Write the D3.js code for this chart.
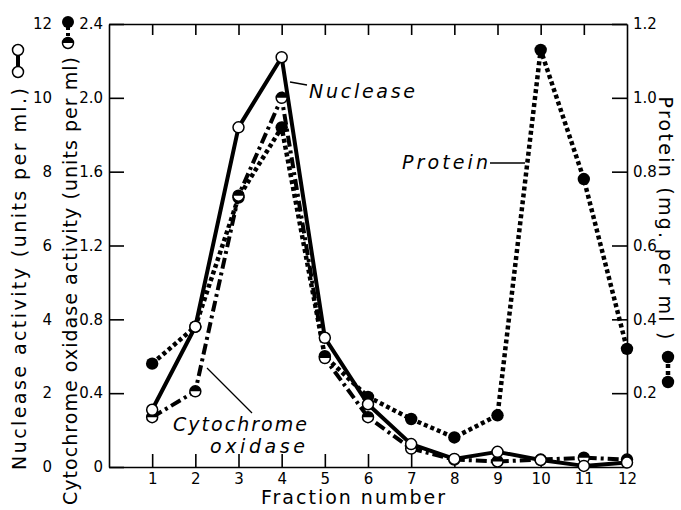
<!DOCTYPE html>
<html>
<head>
<meta charset="utf-8">
<script src="https://cdn.jsdelivr.net/npm/d3@7"></script>
<style>
  body { margin: 0; background: #fff; }
  svg { display: block; font-family: "DejaVu Sans", sans-serif; }
  .axis path, .axis line { stroke: #000; stroke-width: 1.6px; }
  .axis text { font-family: "DejaVu Sans", sans-serif; font-size: 15px; fill: #000; }
</style>
</head>
<body>
<div id="chart"></div>
<script>
// fraction numbers on the x axis
var fractions = [1, 2, 3, 4, 5, 6, 7, 8, 9, 10, 11, 12];
// nuclease activity, units per ml (left outer scale 0-12)
var nuclease = [1.55, 3.8, 9.2, 11.1, 3.5, 1.7, 0.62, 0.22, 0.41, 0.19, 0.03, 0.12];
// cytochrome oxidase activity, units per ml (left inner scale 0-2.4)
var cytochrome = [0.27, 0.41, 1.47, 2.0, 0.59, 0.27, 0.10, 0.04, 0.03, 0.04, 0.05, 0.04];
// protein, mg per ml (right scale 0-1.2)
var protein = [0.28, 0.38, 0.73, 0.92, 0.30, 0.19, 0.13, 0.08, 0.14, 1.13, 0.78, 0.32];

var nucleaseTicks = [0, 2, 4, 6, 8, 10, 12];
var cytochromeTicks = [0, 0.4, 0.8, 1.2, 1.6, 2.0, 2.4];
var proteinTicks = [0.2, 0.4, 0.6, 0.8, 1.0, 1.2];

var w = 681, h = 510;
var pLeft = 109, pRight = 627, pTop = 24, pBottom = 467;

var svg = d3.select("#chart").append("svg")
    .attr("width", w)
    .attr("height", h);

var x = d3.scaleLinear().domain([0, 12]).range([pLeft, pRight]);
var yN = d3.scaleLinear().domain([0, 12]).range([pBottom, pTop]);
var yC = d3.scaleLinear().domain([0, 2.4]).range([pBottom, pTop]);
var yP = d3.scaleLinear().domain([0, 1.2]).range([pBottom, pTop]);

var fmt = function(d) { return d === 0 ? "0" : d3.format(".1f")(d); };

// axes, ticks pointing inward
svg.append("g").attr("class", "axis")
    .attr("transform", "translate(" + pLeft + ",0)")
    .call(d3.axisLeft(yC).tickValues(cytochromeTicks).tickSizeInner(-15).tickSizeOuter(0).tickPadding(6).tickFormat(fmt));

svg.append("g").attr("class", "axis outer")
    .attr("transform", "translate(52,0)")
    .call(d3.axisLeft(yN).tickValues(nucleaseTicks).tickSize(0).tickPadding(0))
    .call(function(g) { g.select(".domain").remove(); });

svg.append("g").attr("class", "axis")
    .attr("transform", "translate(" + pRight + ",0)")
    .call(d3.axisRight(yP).tickValues(proteinTicks).tickSizeInner(-15).tickSizeOuter(0).tickPadding(6).tickFormat(fmt));

svg.append("g").attr("class", "axis")
    .attr("transform", "translate(0," + pBottom + ")")
    .call(d3.axisBottom(x).tickValues(fractions).tickSizeInner(-13).tickSizeOuter(0).tickPadding(6));

svg.append("g").attr("class", "axis")
    .attr("transform", "translate(0," + pTop + ")")
    .call(d3.axisTop(x).tickValues(fractions.slice(0, 11)).tickSizeInner(-11).tickSizeOuter(0).tickFormat(""));

// lines
var lineN = d3.line().x(function(d, i) { return x(fractions[i]); }).y(function(d) { return yN(d); });
var lineC = d3.line().x(function(d, i) { return x(fractions[i]); }).y(function(d) { return yC(d); });
var lineP = d3.line().x(function(d, i) { return x(fractions[i]); }).y(function(d) { return yP(d); });

svg.append("path")
    .attr("d", lineP(protein))
    .attr("fill", "none")
    .attr("stroke", "#000")
    .attr("stroke-width", 4.5)
    .attr("stroke-dasharray", "4,3");

svg.append("path")
    .attr("d", lineC(cytochrome))
    .attr("fill", "none")
    .attr("stroke", "#000")
    .attr("stroke-width", 4)
    .attr("stroke-dasharray", "11,4,3,4");

svg.append("path")
    .attr("d", lineN(nuclease))
    .attr("fill", "none")
    .attr("stroke", "#000")
    .attr("stroke-width", 4)
    .attr("stroke-linejoin", "round");

// markers
var r = 5.5;
var halfTop = "M" + (-r) + ",0A" + r + "," + r + " 0 0,1 " + r + ",0Z";

svg.selectAll("circle.prot")
    .data(protein)
    .enter().append("circle")
    .attr("class", "prot")
    .attr("cx", function(d, i) { return x(fractions[i]); })
    .attr("cy", function(d) { return yP(d); })
    .attr("r", 6.2)
    .attr("fill", "#000");

var cyt = svg.selectAll("g.cyt")
    .data(cytochrome)
    .enter().append("g")
    .attr("class", "cyt")
    .attr("transform", function(d, i) { return "translate(" + x(fractions[i]) + "," + yC(d) + ")"; });
cyt.append("circle").attr("r", r).attr("fill", "#fff").attr("stroke", "#000").attr("stroke-width", 1.5);
cyt.append("path").attr("d", halfTop).attr("fill", "#000");

svg.selectAll("circle.nuc")
    .data(nuclease)
    .enter().append("circle")
    .attr("class", "nuc")
    .attr("cx", function(d, i) { return x(fractions[i]); })
    .attr("cy", function(d) { return yN(d); })
    .attr("r", r)
    .attr("fill", "#fff")
    .attr("stroke", "#000")
    .attr("stroke-width", 1.5);

// series labels
function label(txt, tx, ty, len) {
    return svg.append("text")
        .attr("x", tx).attr("y", ty)
        .attr("font-size", "19px")
        .attr("font-style", "italic")
        .attr("textLength", len)
        .attr("lengthAdjust", "spacing")
        .text(txt);
}
label("Nuclease", 309, 98, 106);
label("Protein", 402, 169, 86);
label("Cytochrome", 173, 431, 134);
label("oxidase", 210, 453, 95);

svg.append("line").attr("x1", 290).attr("y1", 82).attr("x2", 307).attr("y2", 85).attr("stroke", "#000").attr("stroke-width", 1.3);
svg.append("line").attr("x1", 490).attr("y1", 163).attr("x2", 525).attr("y2", 163).attr("stroke", "#000").attr("stroke-width", 1.3);
svg.append("line").attr("x1", 207).attr("y1", 368).attr("x2", 252).attr("y2", 413).attr("stroke", "#000").attr("stroke-width", 1.3);

// axis titles
svg.append("text")
    .attr("transform", "translate(353,504)")
    .attr("text-anchor", "middle")
    .attr("font-size", "19px")
    .attr("textLength", 184)
    .attr("lengthAdjust", "spacing")
    .text("Fraction number");

svg.append("text")
    .attr("transform", "translate(26,279)rotate(-90)")
    .attr("text-anchor", "middle")
    .attr("font-size", "19px")
    .attr("textLength", 382)
    .attr("lengthAdjust", "spacing")
    .text("Nuclease activity (units per ml.)");

svg.append("text")
    .attr("transform", "translate(77,281)rotate(-90)")
    .attr("text-anchor", "middle")
    .attr("font-size", "19px")
    .attr("textLength", 448)
    .attr("lengthAdjust", "spacing")
    .text("Cytochrome oxidase activity (units per ml)");

svg.append("text")
    .attr("transform", "translate(659,218)rotate(90)")
    .attr("text-anchor", "middle")
    .attr("font-size", "19px")
    .attr("textLength", 243)
    .attr("lengthAdjust", "spacing")
    .text("Protein (mg. per ml )");

// legend keys beside the axis titles
var keys = svg.append("g");
keys.append("line").attr("x1", 18).attr("y1", 50).attr("x2", 18).attr("y2", 72).attr("stroke", "#000").attr("stroke-width", 4);
keys.append("circle").attr("cx", 18).attr("cy", 50).attr("r", r).attr("fill", "#fff").attr("stroke", "#000").attr("stroke-width", 1.5);
keys.append("circle").attr("cx", 18).attr("cy", 72).attr("r", r).attr("fill", "#fff").attr("stroke", "#000").attr("stroke-width", 1.5);

keys.append("line").attr("x1", 68).attr("y1", 22).attr("x2", 68).attr("y2", 43).attr("stroke", "#000").attr("stroke-width", 4).attr("stroke-dasharray", "8,3,3,3");
keys.append("circle").attr("cx", 68).attr("cy", 22).attr("r", 6).attr("fill", "#000");
keys.append("circle").attr("cx", 68).attr("cy", 43).attr("r", r).attr("fill", "#fff").attr("stroke", "#000").attr("stroke-width", 1.5);
keys.append("path").attr("d", halfTop).attr("transform", "translate(68,43)").attr("fill", "#000");

keys.append("line").attr("x1", 668).attr("y1", 357).attr("x2", 668).attr("y2", 382).attr("stroke", "#000").attr("stroke-width", 4.5).attr("stroke-dasharray", "4,3");
keys.append("circle").attr("cx", 668).attr("cy", 357).attr("r", 6.2).attr("fill", "#000");
keys.append("circle").attr("cx", 668).attr("cy", 382).attr("r", 6.2).attr("fill", "#000");
</script>
</body>
</html>
